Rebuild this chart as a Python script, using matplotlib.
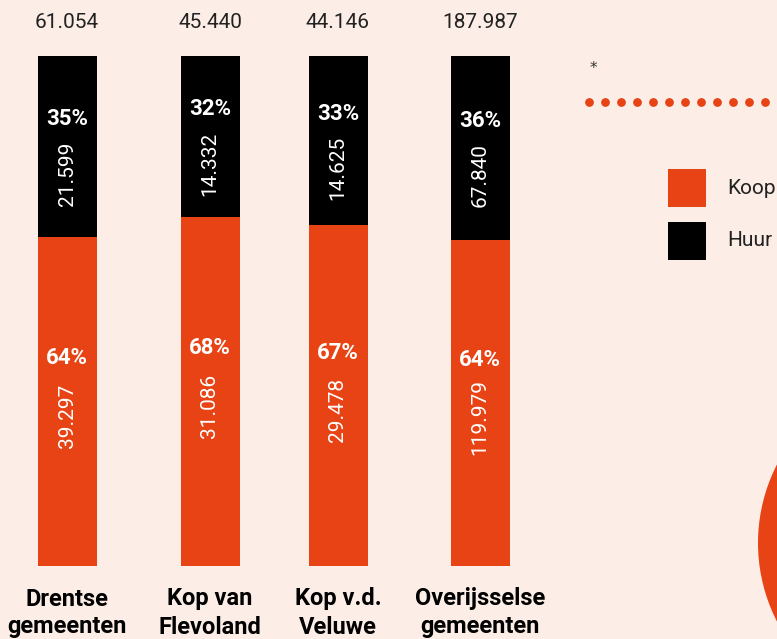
import matplotlib.pyplot as plt
from matplotlib.patches import Circle, Rectangle
from matplotlib.lines import Line2D
import numpy as np

# data
regions = [("Drentse", "gemeenten"), ("Kop van", "Flevoland"),
           ("Kop v.d.", "Veluwe"), ("Overijsselse", "gemeenten")]
totals = ["61.054", "45.440", "44.146", "187.987"]
koop = [39297, 31086, 29478, 119979]
huur = [21599, 14332, 14625, 67840]
koop_pct = ["64%", "68%", "67%", "64%"]
huur_pct = ["35%", "32%", "33%", "36%"]
series = ["Koop", "Huur"]

BG = "#fcede6"
ORANGE = "#e84315"
W, H = 777, 639

def nl(v):
    return f"{v:,}".replace(",", ".")

def fx(x):
    return x / W

def fy(y):
    return 1 - y / H

fig = plt.figure(figsize=(W / 100, H / 100), dpi=100, facecolor=BG)
# bars run from y=56px to y=566px
ax = fig.add_axes([0, (H - 566) / H, 1, 510 / H])
ax.patch.set_alpha(0)
ax.set_xlim(0, W)
ax.set_ylim(0, 1)
ax.axis("off")

x_pos = [67, 210, 338, 480]
koop_share = [k / (k + h) for k, h in zip(koop, huur)]
huur_share = [h / (k + h) for k, h in zip(koop, huur)]

ax.bar(x_pos, koop_share, width=59, color=ORANGE)
ax.bar(x_pos, huur_share, bottom=koop_share, width=59, color="black")

num = dict(family="Roboto", weight="normal")
pct = dict(family="Roboto", weight="bold", fontsize=16, color="white")
for i, x in enumerate(x_pos):
    ks, hs = koop_share[i], huur_share[i]
    # total on top
    ax.annotate(totals[i], (x, 1), xytext=(0, 34), textcoords="offset pixels",
                ha="center", va="center", fontsize=15, color="#222222", **num)
    # huur segment
    mid = ks + hs / 2
    ax.annotate(huur_pct[i], (x, mid), xytext=(0, 27), textcoords="offset pixels",
                ha="center", va="center", **pct)
    ax.annotate(nl(huur[i]), (x, mid), xytext=(0, -27), textcoords="offset pixels",
                ha="center", va="center", fontsize=15, color="white", rotation=90,
                rotation_mode="anchor", **num)
    # koop segment
    mid = ks / 2
    ax.annotate(koop_pct[i], (x, mid), xytext=(0, 43), textcoords="offset pixels",
                ha="center", va="center", **pct)
    ax.annotate(nl(koop[i]), (x, mid), xytext=(0, -14), textcoords="offset pixels",
                ha="center", va="center", fontsize=15, color="white", rotation=90,
                rotation_mode="anchor", **num)
    # category labels
    for line, off in zip(regions[i], (-33, -61)):
        ax.annotate(line, (x, 0), xytext=(0, off), textcoords="offset pixels",
                    ha="center", va="center", fontsize=17, color="black",
                    family="Roboto", weight="bold", annotation_clip=False)

# legend, drawn by hand
for name, col, top in zip(series, [ORANGE, "black"], [169, 222]):
    fig.add_artist(Rectangle((fx(668), fy(top + 38)), 38 / W, 38 / H,
                             transform=fig.transFigure, color=col, lw=0))
    fig.text(fx(727), fy(top + 19), name, ha="left", va="center", fontsize=15,
             color="#222222", family="Roboto", weight="normal")

# decorations: asterisk, dotted line, circle
fig.text(fx(593), fy(69), "*", ha="center", va="center", fontsize=11, color="#333333")
dots_x = np.arange(589, W + 8, 16)
fig.add_artist(Line2D(dots_x / W, np.full(len(dots_x), fy(102)), transform=fig.transFigure,
                      linestyle="none", marker="o", markersize=6.3, color=ORANGE,
                      markeredgewidth=0))
fig.add_artist(Circle((9.30, (H - 543) / 100), 1.72, transform=fig.dpi_scale_trans,
                      color=ORANGE, lw=0))

fig.savefig("out.png", dpi=100, facecolor=BG)
